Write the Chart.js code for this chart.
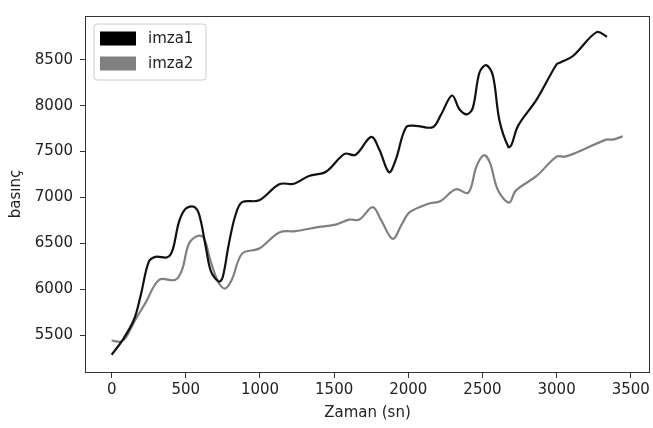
<!DOCTYPE html>
<html>
<head>
<meta charset="utf-8">
<script src="https://cdn.jsdelivr.net/npm/chart.js@4"></script>
<style>
    html, body { margin: 0; padding: 0; background: #fff; }
    #wrap { width: 653px; height: 428px; }
</style>
</head>
<body>
<div id="wrap"><canvas id="chart" width="653" height="428"></canvas></div>
<script>
// Data
const imza1X = [0, 70, 150, 195, 250, 295, 375, 410, 455, 500, 555, 590, 635, 670, 725, 750, 790, 835, 880, 995,
    1130, 1230, 1330, 1445, 1570, 1645, 1750, 1805, 1870, 1915, 1985, 2050, 2165, 2220, 2295, 2345, 2395, 2435,
    2480, 2525, 2570, 2615, 2675, 2695, 2740, 2865, 3000, 3025, 3110, 3270, 3340];
const imza1Y = [5290, 5440, 5670, 5930, 6300, 6355, 6350, 6425, 6740, 6880, 6900, 6815, 6460, 6195, 6085, 6140, 6495, 6810, 6950, 6970,
    7145, 7150, 7235, 7280, 7475, 7465, 7660, 7520, 7275, 7410, 7765, 7780, 7765, 7900, 8110, 7960, 7905, 7975,
    8360, 8440, 8330, 7835, 7550, 7570, 7780, 8065, 8450, 8470, 8540, 8800, 8750];

const imza2X = [0, 60, 95, 160, 230, 320, 430, 475, 520, 575, 620, 665, 720, 765, 810, 880, 995,
    1130, 1240, 1400, 1510, 1600, 1670, 1760, 1815, 1895, 1955, 2010, 2140, 2215, 2320, 2405, 2460,
    2510, 2550, 2605, 2680, 2725, 2865, 3000, 3055, 3135, 3335, 3380, 3445];
const imza2Y = [5445, 5430, 5475, 5670, 5860, 6105, 6105, 6215, 6495, 6580, 6565, 6320, 6075, 6010, 6105, 6390, 6445,
    6620, 6635, 6680, 6705, 6760, 6760, 6895, 6760, 6550, 6705, 6840, 6935, 6960, 7090, 7053, 7340,
    7460, 7380, 7080, 6945, 7075, 7235, 7445, 7445, 7490, 7630, 7630, 7665];

const xTicks = [0, 500, 1000, 1500, 2000, 2500, 3000, 3500];
const yTicks = [5500, 6000, 6500, 7000, 7500, 8000, 8500];

const seriesNames = ['imza1', 'imza2'];
const seriesColors = ['#111111', '#808080'];

function toPoints(xs, ys) {
    return xs.map((x, i) => ({ x: x, y: ys[i] }));
}

const FONT = 'DejaVu Sans';

// Axes frame plus a matplotlib-like legend box in the top-left corner
const frameAndLegend = {
    id: 'frameAndLegend',
    afterDraw(chart) {
        const ctx = chart.ctx;
        const a = chart.chartArea;
        ctx.save();
        ctx.strokeStyle = '#333';
        ctx.lineWidth = 1;
        ctx.strokeRect(Math.round(a.left) - 0.5, Math.round(a.top) + 0.5,
            Math.round(a.right - a.left) + 1, Math.round(a.bottom - a.top));

        // legend
        const lx = a.left + 8, ly = a.top + 8, lw = 112, lh = 56, r = 3;
        ctx.beginPath();
        ctx.moveTo(lx + r, ly);
        ctx.lineTo(lx + lw - r, ly);
        ctx.quadraticCurveTo(lx + lw, ly, lx + lw, ly + r);
        ctx.lineTo(lx + lw, ly + lh - r);
        ctx.quadraticCurveTo(lx + lw, ly + lh, lx + lw - r, ly + lh);
        ctx.lineTo(lx + r, ly + lh);
        ctx.quadraticCurveTo(lx, ly + lh, lx, ly + lh - r);
        ctx.lineTo(lx, ly + r);
        ctx.quadraticCurveTo(lx, ly, lx + r, ly);
        ctx.closePath();
        ctx.fillStyle = 'rgba(255,255,255,0.8)';
        ctx.fill();
        ctx.strokeStyle = '#cccccc';
        ctx.stroke();

        ctx.font = '15px "' + FONT + '"';
        ctx.textBaseline = 'middle';
        chart.data.datasets.forEach((ds, i) => {
            const cy = ly + 14.5 + i * 25;
            ctx.fillStyle = i === 0 ? '#000000' : seriesColors[i];
            ctx.fillRect(lx + 6, cy - 7, 36, 14);
            ctx.fillStyle = '#222';
            ctx.fillText(ds.label, lx + 54, cy + 1);
        });
        ctx.restore();
    }
};

const tickFont = { family: FONT, size: 15 };
const plain = v => String(v);

new Chart(document.getElementById('chart'), {
    type: 'scatter',
    data: {
        datasets: [
            {
                label: seriesNames[0],
                data: toPoints(imza1X, imza1Y),
                borderColor: seriesColors[0],
                backgroundColor: seriesColors[0],
                showLine: true,
                pointRadius: 0,
                borderWidth: 2.2,
                tension: 0.35
            },
            {
                label: seriesNames[1],
                data: toPoints(imza2X, imza2Y),
                borderColor: seriesColors[1],
                backgroundColor: seriesColors[1],
                showLine: true,
                pointRadius: 0,
                borderWidth: 2.2,
                tension: 0.35
            }
        ]
    },
    options: {
        responsive: false,
        animation: false,
        devicePixelRatio: 1,
        layout: { padding: { left: 0, top: 5, right: 4, bottom: 0 } },
        plugins: {
            legend: { display: false },
            tooltip: { enabled: false }
        },
        scales: {
            x: {
                type: 'linear',
                min: -173,
                max: 3623,
                afterFit: scale => { scale.height = 56; },
                afterBuildTicks: scale => { scale.ticks = xTicks.map(v => ({ value: v })); },
                border: { display: false },
                grid: { display: true, drawOnChartArea: false, drawTicks: true, tickLength: 6, color: '#333' },
                ticks: { color: '#222', font: tickFont, padding: 3, maxRotation: 0, callback: plain },
                title: { display: true, text: 'Zaman (sn)', color: '#222', font: tickFont, padding: { top: 0, bottom: 6 } }
            },
            y: {
                type: 'linear',
                min: 5102,
                max: 8975,
                afterFit: scale => { scale.width = 86; },
                afterBuildTicks: scale => { scale.ticks = yTicks.map(v => ({ value: v })); },
                border: { display: false },
                grid: { display: true, drawOnChartArea: false, drawTicks: true, tickLength: 6, color: '#333' },
                ticks: { color: '#222', font: tickFont, padding: 7, callback: plain },
                title: { display: true, text: 'basınç', color: '#222', font: tickFont, padding: { top: 7, bottom: 0 } }
            }
        }
    },
    plugins: [frameAndLegend]
});
</script>
</body>
</html>
